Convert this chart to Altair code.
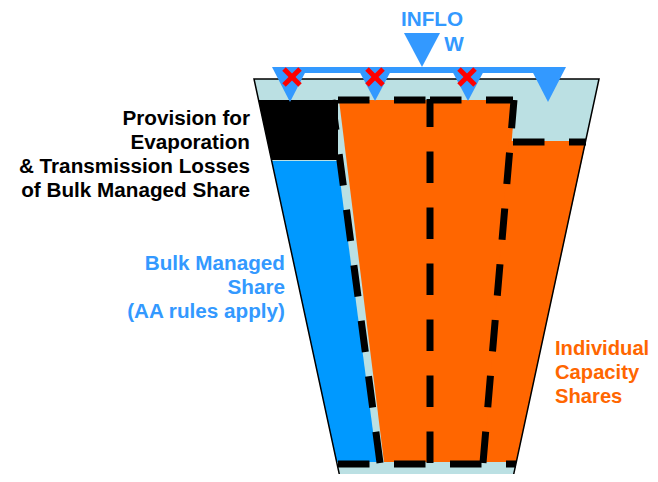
import altair as alt
import pandas as pd

# ---------------- shapes (pixel coordinates of the diagram) ----------------
# horizontal bands: rows of y with left / right x
shape_names = ["trap", "black", "blue", "orange_main", "orange_right"]
shape_y = [[79, 482], [100, 160], [161, 462], [100, 462], [141, 462]]
shape_xl = [[254, 341], [258.5, 271.5], [272, 336.5], [339, 384], [509, 484]]
shape_xr = [[599, 512], [338, 338], [337.5, 377], [515, 486], [586, 516.3]]
shape_fill = ["#BBE0E3", "#000000", "#0099FF", "#FF6600", "#FF6600"]

# triangles (top edge + apex)
tri_names = ["t1", "t2", "t3", "t4", "inflow"]
tri_top = [67, 67, 67, 67, 33]
tri_left = [272, 357, 450, 530, 404]
tri_right = [308, 393, 486, 566, 440]
tri_apex_x = [290, 375, 468, 548, 422]
tri_apex_y = [102, 101, 101, 102, 67]

# trapezoid outline
outline_x = [341, 254, 599, 512]
outline_y = [482, 79, 79, 482]

# dashed compartment lines (start -> end)
dash_names = ["top_l", "top_r", "vert", "left", "right", "mid_r", "bottom"]
dash_x0 = [338, 430, 430, 380, 483, 513, 338]
dash_y0 = [100, 100, 463, 463, 463, 142, 464]
dash_x1 = [430, 513, 430, 332, 514, 586, 516]
dash_y1 = [100, 100, 99, 100, 100, 142, 464]

# inflow bar
bar_x = [280]
bar_x2 = [560]
bar_y = [70]

# red crosses (centres)
cross_x = [292, 375, 467]
cross_y = [77, 77, 77]
cross_d = 8

# texts
black_lines = ["Provision for", "Evaporation", "& Transmission Losses", "of Bulk Managed Share"]
black_y = [124.5, 148.8, 173, 197.3]
blue_lines = ["Bulk Managed", "Share", "(AA rules apply)"]
blue_y = [270, 294, 318]
orange_lines = ["Individual", "Capacity", "Shares"]
orange_y = [355, 379, 403]
inflow_lines = ["INFLO", "W"]
inflow_x = [432, 454]
inflow_y = [26, 51]

# ---------------- build tables ----------------
XS = alt.Scale(domain=[8, 650], nice=False, zero=False)
YS = alt.Scale(domain=[8, 474], nice=False, zero=False, reverse=True)


def X(f, **kw):
    return alt.X(f, scale=XS, axis=None, **kw)


def Y(f, **kw):
    return alt.Y(f, scale=YS, axis=None, **kw)


rows = []
for n, ys, xls, xrs, c in zip(shape_names, shape_y, shape_xl, shape_xr, shape_fill):
    for y, a, b in zip(ys, xls, xrs):
        rows.append({"shape": n, "y": y, "xl": a, "xr": b, "fill": c})
shapes = pd.DataFrame(rows)

trows = []
for n, t, l, r, ax, ay in zip(tri_names, tri_top, tri_left, tri_right, tri_apex_x, tri_apex_y):
    trows.append({"shape": n, "y": t, "xl": l, "xr": r})
    trows.append({"shape": n, "y": ay, "xl": ax, "xr": ax})
tris = pd.DataFrame(trows)

outline = pd.DataFrame({"x": outline_x, "y": outline_y, "ord": list(range(len(outline_x)))})

drows = []
for n, a, b, c, d in zip(dash_names, dash_x0, dash_y0, dash_x1, dash_y1):
    drows.append({"seg": n, "x": a, "y": b, "ord": 0})
    drows.append({"seg": n, "x": c, "y": d, "ord": 1})
dashes = pd.DataFrame(drows)

crows = []
for cx, cy in zip(cross_x, cross_y):
    crows.append({"x1": cx - cross_d, "y1": cy - cross_d, "x2": cx + cross_d, "y2": cy + cross_d})
    crows.append({"x1": cx - cross_d, "y1": cy + cross_d, "x2": cx + cross_d, "y2": cy - cross_d})
crosses = pd.DataFrame(crows)

bar = pd.DataFrame({"x": bar_x, "x2": bar_x2, "y": bar_y})

FONT = "Liberation Sans"
FS = 20.7


def area_layer(df, colored=True, color=None):
    enc = dict(
        y=Y("y:Q"),
        x=X("xl:Q", stack=None),
        x2="xr:Q",
        detail="shape:N",
    )
    if colored:
        enc["color"] = alt.Color("fill:N", scale=None)
        m = alt.Chart(df).mark_area(orient="horizontal", interpolate="linear")
    else:
        m = alt.Chart(df).mark_area(orient="horizontal", interpolate="linear", color=color)
    return m.encode(**enc)


bg = area_layer(shapes[shapes["shape"] == "trap"])
regions = area_layer(shapes[shapes["shape"] != "trap"])

outline_layer = alt.Chart(outline).mark_line(color="black", strokeWidth=1.5).encode(
    x=X("x:Q"), y=Y("y:Q"), order="ord:Q"
)

dash_layer = alt.Chart(dashes).mark_line(
    color="black", strokeWidth=7, strokeDash=[31.5, 24.5], strokeCap="butt"
).encode(x=X("x:Q"), y=Y("y:Q"), detail="seg:N", order="ord:Q")

bar_layer = alt.Chart(bar).mark_rule(color="#3399FF", strokeWidth=6).encode(
    x=X("x:Q"), x2="x2:Q", y=Y("y:Q")
)

tri_layer = area_layer(tris, colored=False, color="#3399FF")

cross_layer = alt.Chart(crosses).mark_rule(color="#FF0000", strokeWidth=5, strokeCap="butt").encode(
    x=X("x1:Q"), y=Y("y1:Q"), x2="x2:Q", y2="y2:Q"
)


def text_layer(lines, xs, ys, align, color, size=FS):
    df = pd.DataFrame({"t": lines, "x": xs, "y": ys})
    return alt.Chart(df).mark_text(
        align=align, baseline="alphabetic", font=FONT, fontWeight="bold", fontSize=size, color=color
    ).encode(x=X("x:Q"), y=Y("y:Q"), text="t:N")


t_black = text_layer(black_lines, [250] * len(black_lines), black_y, "right", "#000000")
t_blue = text_layer(blue_lines, [285] * len(blue_lines), blue_y, "right", "#3399FF")
t_orange = text_layer(orange_lines, [555] * len(orange_lines), orange_y, "left", "#FF6600", 20.2)
t_inflow = text_layer(inflow_lines, inflow_x, inflow_y, "center", "#3399FF")

chart = alt.layer(
    bg, regions, outline_layer, dash_layer, bar_layer, tri_layer, cross_layer,
    t_black, t_blue, t_orange, t_inflow,
).properties(
    width=642, height=466, autosize="none", padding=0, background="white"
).configure_view(stroke=None)

chart.save("out.html", embed_options={"renderer": "svg", "actions": False})
